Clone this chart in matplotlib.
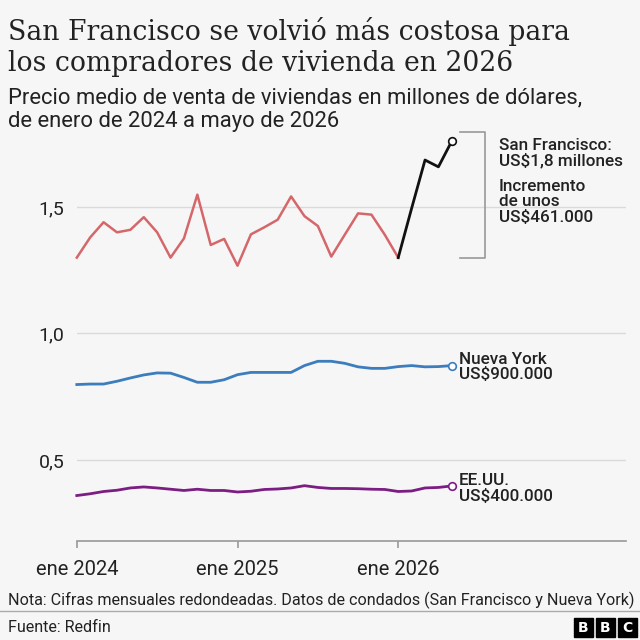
import matplotlib.pyplot as plt
from matplotlib.patches import Rectangle

# meses desde ene 2024 hasta may 2026 (29 puntos)
meses = list(range(29))
xticks = [0, 12, 24]
xticklabels = ["ene 2024", "ene 2025", "ene 2026"]
yticks = [0.5, 1.0, 1.5]
yticklabels = ["0,5", "1,0", "1,5"]

san_francisco = [1.30, 1.38, 1.44, 1.40, 1.41, 1.46, 1.40, 1.30, 1.376, 1.549,
                 1.35, 1.374, 1.268, 1.392, 1.42, 1.45, 1.542, 1.464, 1.425, 1.304,
                 1.39, 1.475, 1.47, 1.39, 1.30, 1.495, 1.686, 1.659, 1.761]
nueva_york = [0.798, 0.80, 0.80, 0.811, 0.824, 0.836, 0.844, 0.843, 0.826, 0.807,
              0.807, 0.817, 0.837, 0.846, 0.846, 0.846, 0.846, 0.873, 0.89, 0.89,
              0.882, 0.868, 0.862, 0.862, 0.869, 0.873, 0.868, 0.869, 0.873]
eeuu = [0.359, 0.366, 0.375, 0.38, 0.389, 0.393, 0.389, 0.384, 0.379, 0.384,
        0.379, 0.379, 0.373, 0.376, 0.383, 0.385, 0.389, 0.398, 0.391, 0.387,
        0.387, 0.386, 0.384, 0.383, 0.375, 0.377, 0.389, 0.391, 0.397]

inicio_subida = 24  # ene 2026

bg = "#f6f6f6"
rojo = "#d5676b"
azul = "#3b7dbd"
morado = "#7b1d82"
texto = "#222222"

plt.rcParams['font.family'] = ['Roboto', 'DejaVu Sans']

fig = plt.figure(figsize=(6.4, 6.4), dpi=100, facecolor=bg)
ax = fig.add_axes([0.120, 0.155, 0.858, 0.640], facecolor=bg)

ax.set_xlim(0, 41)
ax.set_ylim(0.18, 1.80)

for y in yticks:
    ax.axhline(y, color="#dadada", lw=1, zorder=0)

ax.plot(meses[:inicio_subida + 1], san_francisco[:inicio_subida + 1], color=rojo, lw=1.8, clip_on=False)
ax.plot(meses[inicio_subida:], san_francisco[inicio_subida:], color="#111111", lw=2, clip_on=False)
ax.plot(meses, nueva_york, color=azul, lw=2, clip_on=False)
ax.plot(meses, eeuu, color=morado, lw=2, clip_on=False)

for serie, c in [(san_francisco, "#111111"), (nueva_york, azul), (eeuu, morado)]:
    ax.plot(meses[-1], serie[-1], "o", ms=5.5, mfc="white", mec=c, mew=1.2, clip_on=False, zorder=5)

etiqueta = dict(ha="left", va="center", fontsize=12.3, fontweight="medium", color=texto,
                linespacing=1.02, family=['Roboto', 'DejaVu Sans'])

# etiquetas
ax.text(meses[-1] + 0.55, nueva_york[-1] - 0.005, "Nueva York\nUS$900.000", **etiqueta)
ax.text(meses[-1] + 0.55, eeuu[-1] - 0.01, "EE.UU.\nUS$400.000", **etiqueta)

# corchete del incremento
top = san_francisco[-1] + 0.037
bot = san_francisco[inicio_subida]
bx0, bx1 = 28.6, 30.5
ax.plot([bx0, bx1, bx1, bx0], [top, top, bot, bot], color="#999999", lw=1.2, clip_on=False)
ax.text(31.5, 1.713, "San Francisco:\nUS$1,8 millones", **etiqueta)
ax.text(31.5, 1.52, "Incremento\nde unos\nUS$461.000", **etiqueta)

for s in ["top", "right", "left"]:
    ax.spines[s].set_visible(False)
ax.spines["bottom"].set_color("#999999")
ax.spines["bottom"].set_linewidth(1.2)

ax.set_yticks(yticks)
ax.set_yticklabels(yticklabels)
ax.tick_params(axis="y", length=0, pad=9, labelsize=14, labelcolor=texto)
ax.set_xticks(xticks)
ax.set_xticklabels(xticklabels)
ax.tick_params(axis="x", length=5, width=1.2, color="#999999", pad=9, labelsize=14.5, labelcolor=texto)

# titulos
fig.text(0.0125, 1 - 40 / 640, "San Francisco se volvió más costosa para", fontsize=19.2,
         family=['DejaVu Serif'], color=texto, va="baseline")
fig.text(0.0125, 1 - 71 / 640, "los compradores de vivienda en 2026", fontsize=19.2,
         family=['DejaVu Serif'], color=texto, va="baseline")
fig.text(0.0125, 1 - 103 / 640, "Precio medio de venta de viviendas en millones de dólares,", fontsize=15.8,
         color=texto, va="baseline")
fig.text(0.0125, 1 - 127 / 640, "de enero de 2024 a mayo de 2026", fontsize=15.8,
         color=texto, va="baseline")

fig.text(0.0125, 1 - 605 / 640, "Nota: Cifras mensuales redondeadas. Datos de condados (San Francisco y Nueva York)",
         fontsize=11.6, color=texto, va="baseline")
fig.add_artist(plt.Line2D([0, 1], [1 - 611 / 640] * 2, color="#aaaaaa", lw=1, transform=fig.transFigure))
fig.text(0.0125, 1 - 632 / 640, "Fuente: Redfin", fontsize=11.6, color=texto, va="baseline")

# logo BBC
for i, letra in enumerate("BBC"):
    x0 = (574 + i * 22) / 640
    fig.add_artist(Rectangle((x0, 1 - 637 / 640), 19 / 640, 19 / 640, color="#000000",
                             transform=fig.transFigure))
    fig.text(x0 + 9.5 / 640, 1 - 627.5 / 640, letra, fontsize=10, fontweight="bold", color="white",
             ha="center", va="center", family=['DejaVu Sans'])

fig.savefig("out.png", dpi=100, facecolor=bg)
